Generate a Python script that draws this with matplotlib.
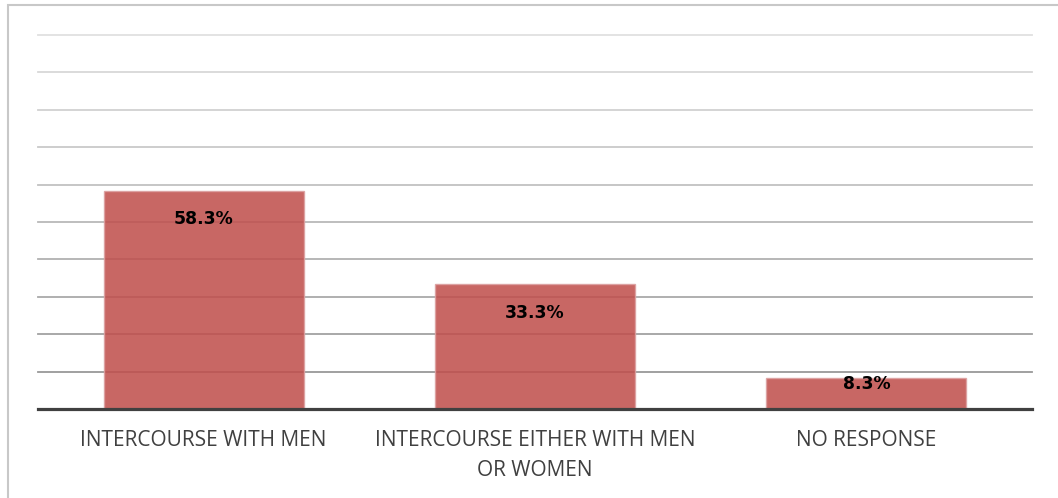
import numpy as np
import matplotlib.pyplot as plt
from matplotlib.patches import Rectangle

categories = ['INTERCOURSE WITH MEN', 'INTERCOURSE EITHER WITH MEN\nOR WOMEN', 'NO RESPONSE']
values = [58.3, 33.3, 8.3]
labels = ['58.3%', '33.3%', '8.3%']

W, H = 1058, 498
fig = plt.figure(figsize=(W/100, H/100), dpi=100)
plt.rcParams['font.family'] = ['Open Sans', 'DejaVu Sans']

# outer frame (only left and top show in the reference)
fig.patches.append(Rectangle((8/W, -0.1), 1.2, 1 - 5/H + 0.1, transform=fig.transFigure,
                             fill=False, edgecolor='#c8c8c8', lw=1.5))

ax = fig.add_axes([38/W, 1 - 409/H, (1032-38)/W, (409-35)/H])
x = np.arange(len(categories))

# gridlines get darker toward the bottom
for v in range(10, 101, 10):
    g = 0.6 + 0.28*(v - 10)/90
    ax.axhline(v, color=(g, g, g), lw=1.3, zorder=1, clip_on=False)

bars = ax.bar(x, values, width=0.604, color='#c0504d', alpha=0.87,
              edgecolor='#dca0a0', lw=1, zorder=2)
ax.axhline(0, color='#404040', lw=2.3, zorder=3, clip_on=False)

for xi, v, lab in zip(x, values, labels):
    y = v - 1.6 if v < 15 else v - 7.5
    ax.text(xi, y, lab, ha='center', va='center', fontsize=12.4, fontweight='bold',
            family='DejaVu Sans', color='black', zorder=4)

ax.set_xlim(-0.5, 2.5)
ax.set_ylim(0, 100)
ax.set_yticks([])
ax.set_xticks(x)
ax.set_xticklabels(categories, fontsize=15, color='#404040', linespacing=1.55)
ax.tick_params(axis='x', length=0, pad=15)
for s in ax.spines.values():
    s.set_visible(False)

fig.savefig('out.png', dpi=100)
